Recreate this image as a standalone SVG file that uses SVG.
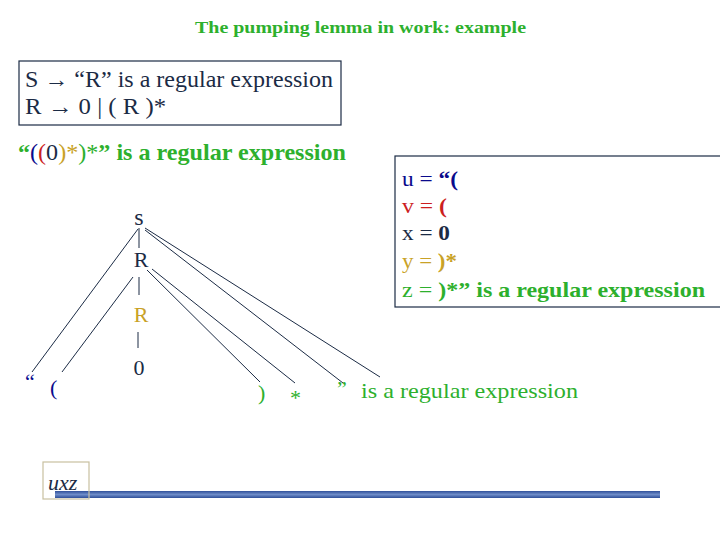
<svg xmlns="http://www.w3.org/2000/svg" width="720" height="540" viewBox="0 0 720 540">
<defs>
<style>
.serif{font-family:"Liberation Serif","Times New Roman",serif}
.navy{fill:#1B2B45}
.blue{fill:#0A0A8C}
.red{fill:#CC1F1F}
.gold{fill:#C9A227}
.green{fill:#2DB02D}
.b{font-weight:bold}
.edge{stroke:#1B2B45;stroke-width:1;fill:none}
</style>
<linearGradient id="bar" x1="0" y1="0" x2="0" y2="1">
<stop offset="0" stop-color="#2F4F9A"/>
<stop offset="0.5" stop-color="#6E8CC8"/>
<stop offset="1" stop-color="#2F4F9A"/>
</linearGradient>
</defs>
<rect width="720" height="540" fill="#fff"/>

<g id="title">
<text class="serif b green" x="195" y="33" font-size="17" textLength="331" lengthAdjust="spacingAndGlyphs">The pumping lemma in work: example</text>
</g>

<g id="grammar">
<rect x="19" y="61" width="322" height="64" fill="none" stroke="#1B2B45" stroke-width="1.2"/>
<text class="serif navy" x="25" y="87" font-size="23" textLength="308" lengthAdjust="spacingAndGlyphs">S → “R” is a regular expression</text>
<text class="serif navy" x="25" y="114" font-size="23" textLength="141" lengthAdjust="spacingAndGlyphs">R → 0 | ( R )*</text>
</g>

<g id="expr">
<text class="serif b" x="18" y="160" font-size="23" textLength="328" lengthAdjust="spacingAndGlyphs"><tspan class="green">“</tspan><tspan class="blue" font-weight="normal">(</tspan><tspan class="red" font-weight="normal">(</tspan><tspan class="navy" font-weight="normal">0</tspan><tspan class="gold" font-weight="normal">)*</tspan><tspan class="green" font-weight="normal">)*</tspan><tspan class="green">” is a regular expression</tspan></text>
</g>

<g id="decomp">
<rect x="395" y="156" width="330" height="151" fill="none" stroke="#1B2B45" stroke-width="1.2"/>
<text class="serif blue" x="402" y="186" font-size="22" textLength="56" lengthAdjust="spacingAndGlyphs">u = <tspan class="b">“(</tspan></text>
<text class="serif red" x="402" y="213" font-size="22" textLength="45" lengthAdjust="spacingAndGlyphs">v = <tspan class="b">(</tspan></text>
<text class="serif navy" x="402" y="240" font-size="22" textLength="48" lengthAdjust="spacingAndGlyphs">x = <tspan class="b">0</tspan></text>
<text class="serif gold" x="402" y="268" font-size="22" textLength="55" lengthAdjust="spacingAndGlyphs">y = <tspan class="b">)*</tspan></text>
<text class="serif green" x="402" y="297" font-size="22" textLength="303" lengthAdjust="spacingAndGlyphs">z = <tspan class="b">)*” is a regular expression</tspan></text>
</g>

<g id="connectors">
<line class="edge" x1="139" y1="228" x2="139" y2="248"/>
<line class="edge" x1="139" y1="277" x2="139" y2="295"/>
<line class="edge" x1="138" y1="332" x2="138" y2="348"/>
<line class="edge" x1="138" y1="229" x2="32" y2="372"/>
<line class="edge" x1="133" y1="277" x2="62" y2="372"/>
<line class="edge" x1="147" y1="270" x2="260" y2="382"/>
<line class="edge" x1="152" y1="269" x2="295" y2="383"/>
<line class="edge" x1="145" y1="230" x2="343" y2="383"/>
<line class="edge" x1="145" y1="228" x2="380" y2="377"/>
</g>

<g id="node-s"><text class="serif navy" x="139" y="225" font-size="24" text-anchor="middle">s</text></g>
<g id="node-R1"><text class="serif navy" x="141" y="267" font-size="22" text-anchor="middle">R</text></g>
<g id="node-R2"><text class="serif gold" x="141" y="322" font-size="22" text-anchor="middle">R</text></g>
<g id="node-0"><text class="serif navy" x="139" y="375" font-size="22" text-anchor="middle">0</text></g>
<g id="leaf-q1"><text class="serif blue" x="25" y="389" font-size="22">“</text></g>
<g id="leaf-lp"><text class="serif blue" x="50" y="395" font-size="22">(</text></g>
<g id="leaf-rp"><text class="serif green" x="258" y="400" font-size="22">)</text></g>
<g id="leaf-star"><text class="serif green" x="290" y="405" font-size="22">*</text></g>
<g id="leaf-q2"><text class="serif green" x="337" y="396" font-size="22">”</text></g>
<g id="leaf-rest"><text class="serif green" x="361" y="398" font-size="22" textLength="217" lengthAdjust="spacingAndGlyphs">is a regular expression</text></g>

<g id="footer">
<rect x="55" y="491" width="605" height="7" fill="url(#bar)"/>
<rect x="43" y="462" width="46" height="37" fill="none" stroke="#C8C0A0" stroke-width="1.2"/>
<text class="serif navy" x="48" y="490" font-size="22" font-style="italic">uxz</text>
</g>
</svg>
